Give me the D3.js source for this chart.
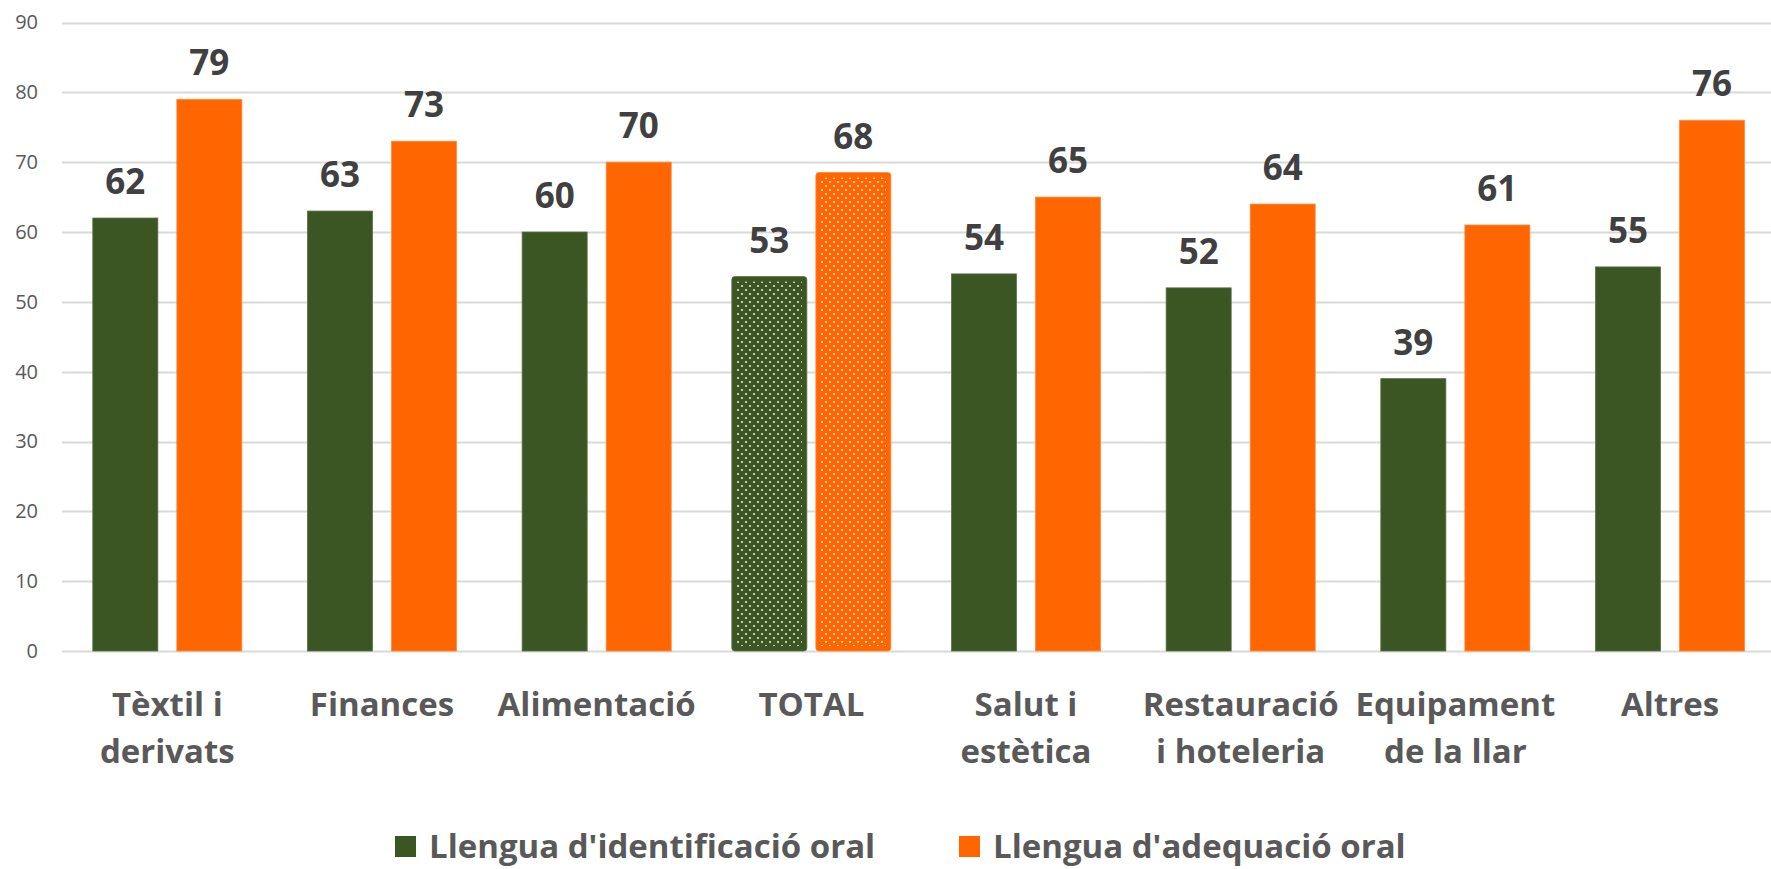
<!DOCTYPE html>
<html>
<head>
<meta charset="utf-8">
<script src="https://cdn.jsdelivr.net/npm/d3@7"></script>
<style>
  body { margin: 0; background: #fff; }
  svg { display: block; font-family: "Open Sans", sans-serif; }
</style>
</head>
<body>
<svg id="chart" width="1771" height="869"></svg>
<script>
// categories (line breaks as in the original)
const categories = [
  "Tèxtil i\nderivats",
  "Finances",
  "Alimentació",
  "TOTAL",
  "Salut i\nestètica",
  "Restauració\ni hoteleria",
  "Equipament\nde la llar",
  "Altres",
];
const identificacio = [62, 63, 60, 52.9, 54, 52, 39, 55];
const adequacio = [79, 73, 70, 67.8, 65, 64, 61, 76];
const seriesNames = ["Llengua d'identificació oral", "Llengua d'adequació oral"];
const yTicks = [0, 10, 20, 30, 40, 50, 60, 70, 80, 90];

const colors = ["#3b5622", "#ff6600"];
const edge = ["#5a7046", "#ff8a40"];

const svg = d3.select("#chart");
const W = +svg.attr("width");

// scales
const y = d3.scaleLinear().domain([0, 90]).range([651, 22.5]);
const x0 = d3.scaleBand().domain(categories).range([60, 60 + 8 * 214.67]);
const x1 = d3.scaleBand().domain([0, 1])
  .range([32.8, x0.bandwidth() - 32.8])
  .paddingInner(0.2262);

// dotted pattern for the TOTAL bars
const defs = svg.append("defs");
colors.forEach((c, i) => {
  const p = defs.append("pattern")
    .attr("id", "dots" + i)
    .attr("patternUnits", "userSpaceOnUse")
    .attr("width", 8).attr("height", 8);
  p.append("rect").attr("width", 8).attr("height", 8).attr("fill", c);
  p.append("circle").attr("cx", 2).attr("cy", 2).attr("r", 0.9).attr("fill", "#fff");
  p.append("circle").attr("cx", 6).attr("cy", 6).attr("r", 0.9).attr("fill", "#fff");
});

// gridlines
svg.append("g")
  .selectAll("line")
  .data(yTicks)
  .join("line")
  .attr("x1", 62).attr("x2", W)
  .attr("y1", (d) => Math.round(y(d)) + 0.5)
  .attr("y2", (d) => Math.round(y(d)) + 0.5)
  .attr("stroke", "#d9d9d9")
  .attr("stroke-width", 2);

// y axis labels
const yAxis = svg.append("g")
  .attr("transform", "translate(38,0)")
  .call(d3.axisLeft(y).tickValues(yTicks).tickSize(0).tickPadding(0));
yAxis.select(".domain").remove();
yAxis.selectAll("text")
  .attr("fill", "#595959")
  .style("font-size", "20px")
  .style("font-family", "Open Sans, sans-serif");

// bars
const rows = categories.map((c, i) => ({
  cat: c,
  vals: [identificacio[i], adequacio[i]],
}));

const groups = svg.append("g")
  .selectAll("g")
  .data(rows)
  .join("g")
  .attr("transform", (d) => `translate(${x0(d.cat)},0)`);

// the TOTAL bars have a thick outline of the same colour
const grow = 5;
const bars = groups.selectAll("g.bar")
  .data((d) => d.vals.map((v, s) => ({ v, s, total: d.cat === "TOTAL" })))
  .join("g")
  .attr("class", "bar");

bars.append("rect")
  .attr("x", (d) => x1(d.s) - (d.total ? grow : 0))
  .attr("width", (d) => x1.bandwidth() + (d.total ? 2 * grow : 0))
  .attr("y", (d) => y(d.v) - (d.total ? grow : 0))
  .attr("height", (d) => y(0) - y(d.v) + (d.total ? grow : 0))
  .attr("rx", (d) => (d.total ? 3 : 0))
  .attr("fill", (d) => colors[d.s])
  .attr("stroke", (d) => edge[d.s])
  .attr("stroke-width", 0.8);

bars.filter((d) => d.total)
  .append("rect")
  .attr("x", (d) => x1(d.s))
  .attr("width", x1.bandwidth())
  .attr("y", (d) => y(d.v))
  .attr("height", (d) => y(0) - y(d.v) - grow)
  .attr("fill", (d) => `url(#dots${d.s})`);

// value labels
bars.append("text")
  .attr("x", (d) => x1(d.s) + x1.bandwidth() / 2)
  .attr("y", (d) => y(d.v) - (d.total ? grow : 0) - 24)
  .attr("text-anchor", "middle")
  .attr("fill", "#404040")
  .style("font-size", "35px")
  .style("font-weight", 700)
  .text((d) => Math.round(d.v));

// category labels
const catLabels = svg.append("g")
  .selectAll("text")
  .data(categories)
  .join("text")
  .attr("x", (d) => x0(d) + x0.bandwidth() / 2)
  .attr("y", 716)
  .attr("text-anchor", "middle")
  .attr("fill", "#595959")
  .style("font-size", "33px")
  .style("font-weight", 700);
catLabels.selectAll("tspan")
  .data((d) => d.split("\n"))
  .join("tspan")
  .attr("x", function () { return d3.select(this.parentNode).attr("x"); })
  .attr("dy", (d, i) => (i === 0 ? 0 : 47))
  .text((d) => d);

// legend
const legendX = [395, 959];
const legend = svg.append("g")
  .selectAll("g")
  .data(seriesNames)
  .join("g")
  .attr("transform", (d, i) => `translate(${legendX[i]},836)`);
legend.append("rect")
  .attr("width", 21).attr("height", 21)
  .attr("fill", (d, i) => colors[i]);
legend.append("text")
  .attr("x", 34).attr("y", 22)
  .attr("fill", "#595959")
  .style("font-size", "33px")
  .style("font-weight", 700)
  .text((d) => d);
</script>
</body>
</html>
